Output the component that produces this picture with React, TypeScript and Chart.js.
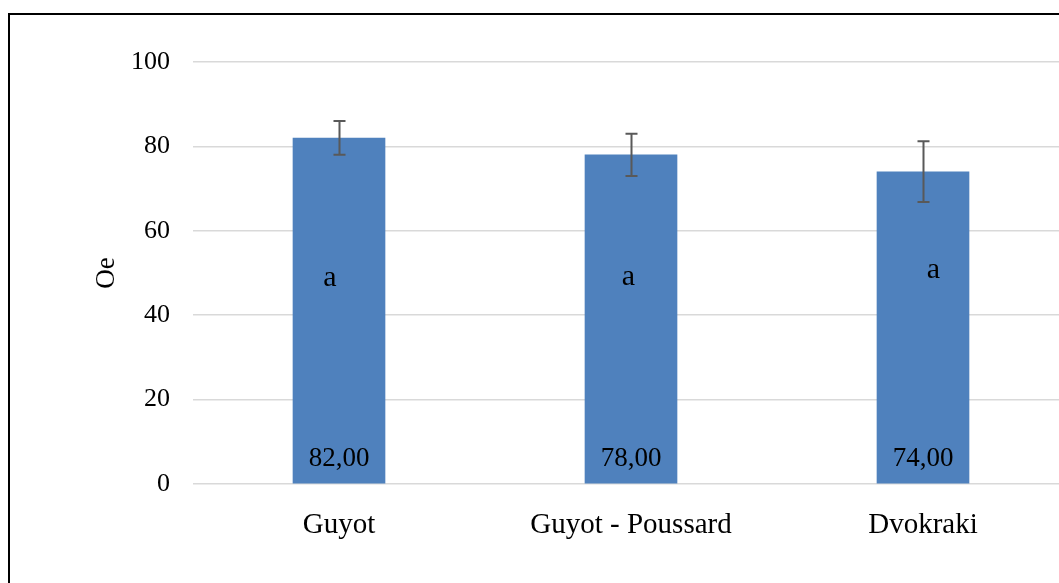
import React, { useEffect, useRef } from "react";
import { Chart, registerables } from "chart.js";

Chart.register(...registerables);

// ---- data ----
const categories = ["Guyot", "Guyot - Poussard", "Dvokraki"];
const oeValues = [82, 78, 74];
const oeErrors = [4, 5, 7.2];
const groupLetters = ["a", "a", "a"];
const yTicks = [0, 20, 40, 60, 80, 100];

// ---- style ----
const FONT = "'Liberation Serif', 'Times New Roman', serif";
const BAR_COLOR = "#4f81bd";
const ERR_COLOR = "#595959";
const GRID_COLOR = "#d9d9d9";
// letter label placement (value-axis anchor and small horizontal offsets, in px)
const letterAnchor = [47, 47.2, 48.8];
const letterDx = [-9, -2.5, 10.5];

const overlayPlugin = {
  id: "overlay",
  afterDatasetsDraw(chart: any) {
    const ctx = chart.ctx;
    const y = chart.scales.y;
    const meta = chart.getDatasetMeta(0);
    ctx.save();
    // error bars
    ctx.strokeStyle = ERR_COLOR;
    ctx.lineWidth = 2;
    meta.data.forEach((bar: any, i: number) => {
      const x = Math.round(bar.x) + 0.5;
      const yt = y.getPixelForValue(oeValues[i] + oeErrors[i]);
      const yb = y.getPixelForValue(oeValues[i] - oeErrors[i]);
      ctx.beginPath();
      ctx.moveTo(x, yt);
      ctx.lineTo(x, yb);
      ctx.moveTo(x - 6, yt);
      ctx.lineTo(x + 6, yt);
      ctx.moveTo(x - 6, yb);
      ctx.lineTo(x + 6, yb);
      ctx.stroke();
    });
    // value labels
    ctx.fillStyle = "#000";
    ctx.textAlign = "center";
    ctx.textBaseline = "alphabetic";
    ctx.font = `27px ${FONT}`;
    const y0 = y.getPixelForValue(0);
    meta.data.forEach((bar: any, i: number) => {
      ctx.fillText(oeValues[i].toFixed(2).replace(".", ","), bar.x, y0 - 18);
    });
    // group letters
    ctx.font = `30px ${FONT}`;
    meta.data.forEach((bar: any, i: number) => {
      ctx.fillText(groupLetters[i], bar.x + letterDx[i], y.getPixelForValue(letterAnchor[i]));
    });
    ctx.restore();
  },
};

export default function App() {
  const ref = useRef<HTMLCanvasElement | null>(null);
  useEffect(() => {
    document.body.style.overflow = "hidden";
    document.documentElement.style.overflow = "hidden";
    if (!ref.current) return;
    const chart = new Chart(ref.current, {
      type: "bar",
      data: {
        labels: categories,
        datasets: [
          {
            data: oeValues,
            backgroundColor: BAR_COLOR,
            borderWidth: 0,
            barThickness: 92,
          },
        ],
      },
      options: {
        responsive: false,
        animation: false,
        devicePixelRatio: 1,
        layout: { padding: { left: 0, top: 62, right: 31, bottom: 0 } },
        plugins: { legend: { display: false }, tooltip: { enabled: false } },
        scales: {
          x: {
            grid: { display: false },
            border: { display: false },
            ticks: {
              color: "#000",
              font: { family: FONT, size: 29 },
              padding: 16,
              maxRotation: 0,
            },
            afterFit: (s: any) => {
              s.height = 116;
            },
          },
          y: {
            min: 0,
            max: 100,
            afterBuildTicks: (s: any) => {
              s.ticks = yTicks.map((v) => ({ value: v }));
            },
            grid: { color: GRID_COLOR, lineWidth: 1.5, drawTicks: false },
            border: { display: false },
            ticks: {
              color: "#000",
              font: { family: FONT, size: 26 },
              padding: 23,
            },
            title: {
              display: true,
              text: "Oe",
              color: "#000",
              font: { family: FONT, size: 27 },
              padding: { top: 91, bottom: 0 },
            },
            afterFit: (s: any) => {
              s.width = 193;
            },
          },
        },
      },
      plugins: [overlayPlugin],
    });
    return () => chart.destroy();
  }, []);

  return (
    <div style={{ position: "fixed", left: 0, top: 0, width: 1100, height: 620, background: "#fff" }}>
      <canvas ref={ref} width={1100} height={600} style={{ position: "absolute", left: 0, top: 0 }} />
      <div
        style={{
          position: "absolute",
          left: 8,
          top: 13,
          width: 1100,
          height: 620,
          border: "2px solid #000",
          boxSizing: "border-box",
          pointerEvents: "none",
        }}
      />
    </div>
  );
}
